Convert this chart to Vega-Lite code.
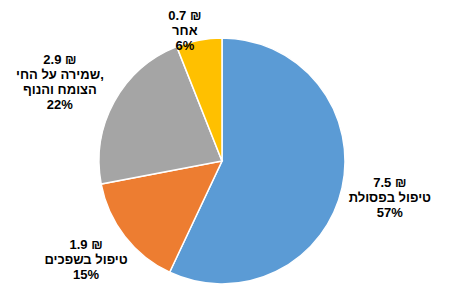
{
  "$schema": "https://vega.github.io/schema/vega-lite/v6.json",
  "width": 444,
  "height": 278,
  "autosize": "none",
  "padding": {"top": 22, "bottom": 0, "left": 0, "right": 6},
  "background": "white",
  "view": {"stroke": null},
  "data": {
    "values": [
      {"idx": 1, "cat": "טיפול בפסולת", "pct": 57, "amount": 7.5, "label": "7.5 ₪\nטיפול בפסולת\n57%"},
      {"idx": 2, "cat": "טיפול בשפכים", "pct": 15, "amount": 1.9, "label": "1.9 ₪\nטיפול בשפכים\n15%"},
      {"idx": 3, "cat": "שמירה על החי, הצומח והנוף", "pct": 22, "amount": 2.9, "label": "2.9 ₪\nשמירה על החי,\nהצומח והנוף\n22%"},
      {"idx": 4, "cat": "אחר", "pct": 6, "amount": 0.7, "label": "0.7 ₪\nאחר\n6%"}
    ]
  },
  "encoding": {
    "theta": {"field": "pct", "type": "quantitative", "stack": true},
    "order": {"field": "idx", "type": "quantitative"}
  },
  "layer": [
    {
      "mark": {"type": "arc", "outerRadius": 123, "stroke": "white", "strokeWidth": 1.5},
      "encoding": {
        "color": {
          "field": "cat",
          "type": "nominal",
          "scale": {
            "domain": ["טיפול בפסולת", "טיפול בשפכים", "שמירה על החי, הצומח והנוף", "אחר"],
            "range": ["#5B9BD5", "#ED7D31", "#A5A5A5", "#FFC000"]
          },
          "legend": null
        }
      }
    },
    {
      "mark": {"type": "text", "radius": 172, "dy": -16, "lineBreak": "\n", "font": "Liberation Sans", "fontWeight": "bold", "fontSize": 13, "lineHeight": 15, "color": "#000000", "align": "center", "baseline": "middle"},
      "encoding": {"text": {"condition": {"test": "datum.idx == 1", "field": "label", "type": "nominal"}, "value": ""}}
    },
    {
      "mark": {"type": "text", "radius": 172, "dy": -21, "lineBreak": "\n", "font": "Liberation Sans", "fontWeight": "bold", "fontSize": 13, "lineHeight": 15, "color": "#000000", "align": "center", "baseline": "middle"},
      "encoding": {"text": {"condition": {"test": "datum.idx == 2", "field": "label", "type": "nominal"}, "value": ""}}
    },
    {
      "mark": {"type": "text", "radius": 185, "dy": -12, "lineBreak": "\n", "font": "Liberation Sans", "fontWeight": "bold", "fontSize": 13, "lineHeight": 15, "color": "#000000", "align": "center", "baseline": "middle"},
      "encoding": {"text": {"condition": {"test": "datum.idx == 3", "field": "label", "type": "nominal"}, "value": ""}}
    },
    {
      "mark": {"type": "text", "radius": 145, "dx": -10, "dy": -3, "lineBreak": "\n", "font": "Liberation Sans", "fontWeight": "bold", "fontSize": 13, "lineHeight": 15, "color": "#000000", "align": "center", "baseline": "middle"},
      "encoding": {"text": {"condition": {"test": "datum.idx == 4", "field": "label", "type": "nominal"}, "value": ""}}
    }
  ]
}
